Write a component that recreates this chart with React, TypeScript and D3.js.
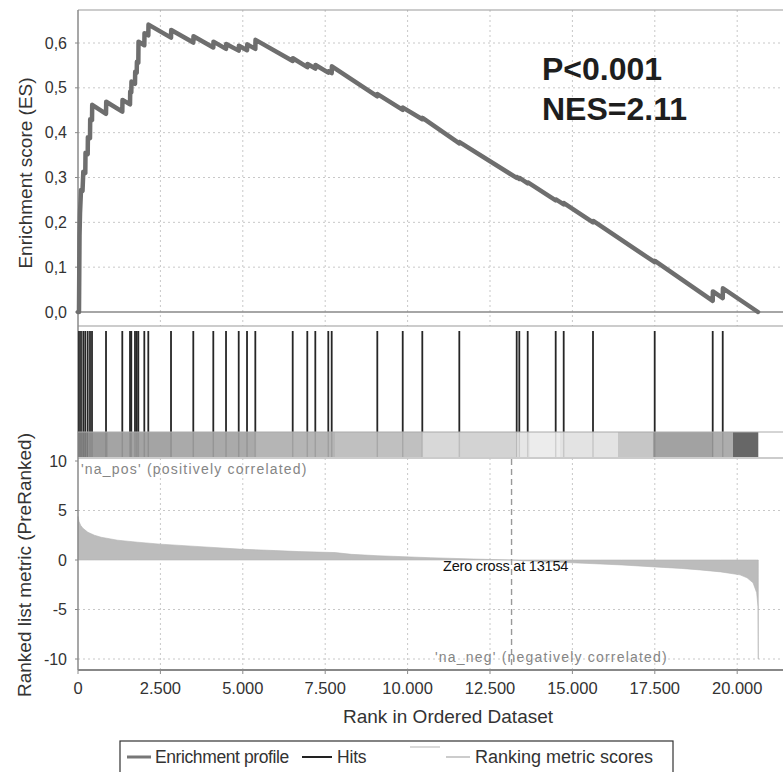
import React from "react";
import * as d3 from "d3";

// ---------- data ----------
const hitRanks = [30, 91, 161, 221, 294, 364, 425, 850, 1344, 1578, 1617, 1729, 1781, 1830, 2012, 2133, 2822, 3498, 4105, 4491, 4876, 5128, 5380, 6514, 6957, 7200, 7594, 7697, 9081, 9852, 10446, 11569, 13310, 13389, 13644, 14493, 14736, 15625, 17497, 19257, 19561];

const esRank = [0, 30, 46, 61, 91, 137, 161, 221, 228, 294, 300, 364, 370, 425, 431, 850, 856, 1344, 1350, 1578, 1584, 1617, 1623, 1729, 1735, 1781, 1787, 1830, 1836, 2012, 2018, 2133, 2139, 2822, 2828, 3498, 3504, 4105, 4111, 4491, 4497, 4876, 4882, 5128, 5134, 5380, 5386, 6514, 6520, 6957, 6963, 7200, 7206, 7594, 7600, 7697, 7703, 9081, 9087, 9852, 9858, 10446, 10452, 11569, 11575, 13310, 13316, 13389, 13395, 13644, 13650, 14493, 14499, 14736, 14742, 15625, 15631, 17497, 17503, 19257, 19263, 19561, 19567, 20630];
const esValue = [0, 0.0, 0.17, 0.22, 0.272, 0.27, 0.313, 0.31, 0.355, 0.352, 0.39, 0.388, 0.43, 0.428, 0.462, 0.442, 0.469, 0.447, 0.473, 0.463, 0.492, 0.49, 0.514, 0.509, 0.536, 0.534, 0.558, 0.556, 0.603, 0.595, 0.622, 0.617, 0.641, 0.612, 0.629, 0.601, 0.615, 0.59, 0.603, 0.587, 0.598, 0.583, 0.594, 0.584, 0.597, 0.587, 0.607, 0.56, 0.566, 0.546, 0.553, 0.543, 0.551, 0.534, 0.537, 0.533, 0.548, 0.481, 0.486, 0.451, 0.456, 0.43, 0.433, 0.376, 0.379, 0.299, 0.301, 0.297, 0.299, 0.287, 0.289, 0.249, 0.251, 0.24, 0.243, 0.2, 0.203, 0.111, 0.114, 0.025, 0.046, 0.031, 0.053, 0.0];

const metricRank = [0, 30, 80, 150, 300, 500, 700, 1200, 1800, 2500, 3700, 4900, 6000, 6700, 7800, 8300, 9100, 10700, 12000, 13154, 14000, 15000, 15840, 16500, 17500, 18300, 18870, 19500, 20085, 20300, 20480, 20590, 20630, 20640];
const metricValue = [4.4, 3.9, 3.5, 3.2, 2.8, 2.5, 2.3, 2.0, 1.8, 1.6, 1.35, 1.1, 0.95, 0.85, 0.75, 0.57, 0.43, 0.23, 0.1, 0, -0.15, -0.28, -0.4, -0.5, -0.7, -0.85, -1.0, -1.2, -1.5, -1.8, -2.3, -3.3, -4.7, -10];

const barStart = [0, 303, 910, 2852, 5370, 7797, 10437, 11590, 13320, 13714, 14624, 16384, 17445, 19266, 19873];
const barGray = [138, 154, 164, 170, 181, 192, 216, 211, 230, 236, 227, 198, 162, 173, 103];
const barEnd = 20640;

const xTicks = [0, 2500, 5000, 7500, 10000, 12500, 15000, 17500, 20000];
const xTickLabels = ["0", "2.500", "5.000", "7.500", "10.000", "12.500", "15.000", "17.500", "20.000"];
const esTicks = [0, 0.1, 0.2, 0.3, 0.4, 0.5, 0.6];
const esTickLabels = ["0,0", "0,1", "0,2", "0,3", "0,4", "0,5", "0,6"];
const metricTicks = [10, 5, 0, -5, -10];
const zeroCross = 13154;

// ---------- layout ----------
const W = 783, H = 772;
const L = 78, R = 783;
const topY0 = 10, topY1 = 326;
const hitY0 = 331, hitY1 = 432, barY1 = 457, hitPanelBottom = 458;
const botY1 = 670;
const FONT = "'Liberation Sans', Arial, Helvetica, sans-serif";

export default function App() {
  const x = d3.scaleLinear().domain([0, 20000]).range([L, 737.2]);
  const yES = d3.scaleLinear().domain([0, 0.6]).range([312, 43]);
  const yM = d3.scaleLinear().domain([0, 5]).range([560, 510.5]);

  const esPts = esRank.map((r, i) => [r, esValue[i]] as [number, number]);
  const esLine = d3.line<[number, number]>().x(d => x(d[0])).y(d => yES(d[1]))(esPts) || "";

  const mPts = metricRank.map((r, i) => [r, metricValue[i]] as [number, number]);
  const mArea = d3.area<[number, number]>().x(d => x(d[0])).y0(yM(0)).y1(d => yM(d[1]))(mPts) || "";

  const grid = "#c8c8c8";
  const axisCol = "#8a8a8a";

  return (
    <svg width={W} height={H} style={{ position: "absolute", left: 0, top: 0, background: "#fff" }} fontFamily={FONT}>
      <rect x={0} y={0} width={W} height={H} fill="#fff" />
      {/* ---------- top panel ---------- */}
      {xTicks.slice(1).map(t => (
        <line key={"tv" + t} x1={x(t)} x2={x(t)} y1={topY0} y2={topY1} stroke={grid} strokeWidth={1} strokeDasharray="2,3" />
      ))}
      {esTicks.slice(1).map(t => (
        <line key={"th" + t} x1={L} x2={R} y1={yES(t)} y2={yES(t)} stroke={grid} strokeWidth={1} strokeDasharray="2,3" />
      ))}
      <line x1={L} x2={R} y1={topY0} y2={topY0} stroke="#999" strokeWidth={1.2} />
      <line x1={L} x2={R} y1={yES(0)} y2={yES(0)} stroke="#888" strokeWidth={1.6} />
      <line x1={L} x2={R} y1={topY1} y2={topY1} stroke="#999" strokeWidth={1.2} />
      <line x1={L} x2={L} y1={topY0} y2={topY1} stroke={axisCol} strokeWidth={1.5} />
      {esTicks.map((t, i) => (
        <g key={"el" + t}>
          <line x1={L - 3} x2={L} y1={yES(t)} y2={yES(t)} stroke={axisCol} />
          <text x={67} y={yES(t)} dy="0.35em" textAnchor="end" fontSize={16} fill="#333">{esTickLabels[i]}</text>
        </g>
      ))}
      <path d={esLine} fill="none" stroke="#6e6e6e" strokeWidth={4.5} strokeLinejoin="round" strokeLinecap="round" />
      <text x={542} y={80} fontSize={32} fontWeight="bold" fill="#1e1e1e">P&lt;0.001</text>
      <text x={542} y={120} fontSize={32} fontWeight="bold" fill="#1e1e1e">NES=2.11</text>
      <text transform={`translate(25,${(topY0 + topY1) / 2 + 5}) rotate(-90)`} textAnchor="middle" dominantBaseline="central" fontSize={19} fill="#333">Enrichment score (ES)</text>

      {/* ---------- hits panel ---------- */}
      <line x1={L} x2={L} y1={topY1} y2={hitPanelBottom} stroke={axisCol} strokeWidth={1.5} />
      {barStart.map((s, i) => {
        const e = i < barStart.length - 1 ? barStart[i + 1] : barEnd;
        const g = barGray[i];
        return <rect key={"b" + i} x={x(s)} y={hitY1} width={x(e) - x(s)} height={barY1 - hitY1} fill={`rgb(${g},${g},${g})`} />;
      })}
      {hitRanks.map((h, i) => (
        <g key={"h" + i}>
          <line x1={x(h)} x2={x(h)} y1={hitY0} y2={hitY1} stroke="#262626" strokeWidth={1.8} />
          <line x1={x(h)} x2={x(h)} y1={hitY1} y2={barY1} stroke="#000" strokeOpacity={0.12} strokeWidth={1.5} />
        </g>
      ))}
      <line x1={L} x2={R} y1={hitY1} y2={hitY1} stroke="#aaa" strokeWidth={1} />
      <line x1={L} x2={R} y1={hitPanelBottom} y2={hitPanelBottom} stroke="#999" strokeWidth={1.2} />

      {/* ---------- bottom panel ---------- */}
      {xTicks.slice(1).map(t => (
        <line key={"bv" + t} x1={x(t)} x2={x(t)} y1={hitPanelBottom} y2={botY1} stroke={grid} strokeWidth={1} strokeDasharray="2,3" />
      ))}
      {[5, -5, -10].map(t => (
        <line key={"bh" + t} x1={L} x2={R} y1={yM(t)} y2={yM(t)} stroke={grid} strokeWidth={1} strokeDasharray="2,3" />
      ))}
      <path d={mArea} fill="#bcbcbc" stroke="#b4b4b4" strokeWidth={0.6} />
      <line x1={x(zeroCross)} x2={x(zeroCross)} y1={hitPanelBottom + 1} y2={botY1} stroke="#999" strokeWidth={1.4} strokeDasharray="6,4" />
      <text x={443} y={566} dy="0.35em" fontSize={14.5} fill="#111" letterSpacing={-0.2}>Zero cross at {zeroCross}</text>
      <text x={81} y={469} dy="0.35em" fontSize={14} fill="#858585" letterSpacing={1.2}>'na_pos' (positively correlated)</text>
      <text x={435} y={657} dy="0.35em" fontSize={14} fill="#858585" letterSpacing={1.2}>'na_neg' (negatively correlated)</text>
      <line x1={L} x2={L} y1={hitPanelBottom} y2={botY1} stroke={axisCol} strokeWidth={1.5} />
      <line x1={L} x2={R} y1={botY1} y2={botY1} stroke="#888" strokeWidth={2} />
      {metricTicks.map(t => (
        <g key={"ml" + t}>
          <line x1={L - 3} x2={L} y1={yM(t)} y2={yM(t)} stroke={axisCol} />
          <text x={67} y={yM(t)} dy="0.35em" textAnchor="end" fontSize={16} fill="#333">{String(t)}</text>
        </g>
      ))}
      {xTicks.map((t, i) => (
        <g key={"xl" + t}>
          <line x1={x(t)} x2={x(t)} y1={botY1} y2={botY1 + 4} stroke={axisCol} />
          <text x={x(t)} y={688} dy="0.35em" textAnchor="middle" fontSize={16.5} fill="#333">{xTickLabels[i]}</text>
        </g>
      ))}
      <text transform={`translate(24,565) rotate(-90)`} textAnchor="middle" dominantBaseline="central" fontSize={19} fill="#333">Ranked list metric (PreRanked)</text>
      <text x={448} y={716} dy="0.35em" textAnchor="middle" fontSize={19} fill="#333">Rank in Ordered Dataset</text>

      {/* ---------- legend ---------- */}
      <rect x={120} y={741} width={553} height={60} fill="#fff" stroke="#333" strokeWidth={1.2} />
      <line x1={127} x2={151} y1={757} y2={757} stroke="#777" strokeWidth={3} />
      <text x={155} y={757} dy="0.35em" fontSize={17.5} letterSpacing={-0.4} fill="#333">Enrichment profile</text>
      <line x1={302} x2={332} y1={757} y2={757} stroke="#222" strokeWidth={2} />
      <text x={337} y={757} dy="0.35em" fontSize={17.5} letterSpacing={-0.2} fill="#333">Hits</text>
      <line x1={410} x2={440} y1={747} y2={747} stroke="#ccc" strokeWidth={1.5} />
      <line x1={446} x2={470} y1={757} y2={757} stroke="#ccc" strokeWidth={2} />
      <text x={475} y={757} dy="0.35em" fontSize={18} fill="#333">Ranking metric scores</text>
    </svg>
  );
}
